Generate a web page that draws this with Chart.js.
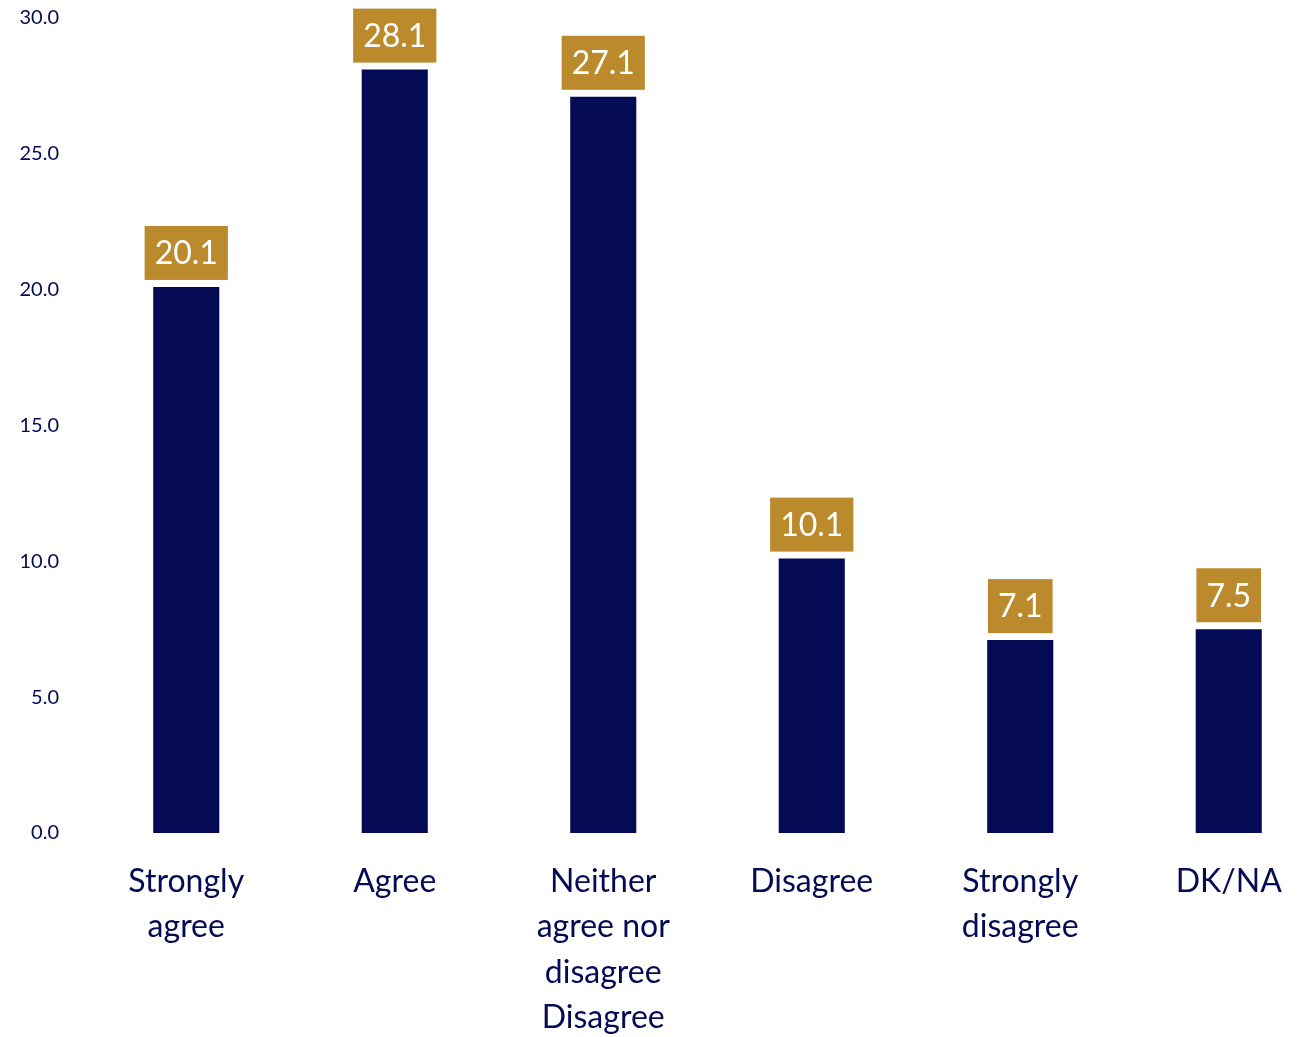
<!DOCTYPE html>
<html>
<head>
<meta charset="utf-8">
<script src="https://cdn.jsdelivr.net/npm/chart.js@4/dist/chart.umd.min.js"></script>
<style>
  html, body { margin: 0; padding: 0; background: #fff; overflow: hidden; }
  #wrap { width: 1333px; height: 1037px; }
</style>
</head>
<body>
<div id="wrap"><canvas id="chart"></canvas></div>
<script>
const categories = [
  ['Strongly', 'agree'],
  'Agree',
  ['Neither', 'agree nor', 'disagree', 'Disagree'],
  'Disagree',
  ['Strongly', 'disagree'],
  'DK/NA'
];
const values = [20.1, 28.1, 27.1, 10.1, 7.1, 7.5];
const yTicks = [0, 5, 10, 15, 20, 25, 30];

const NAVY = '#040a54';
const GOLD = '#bb8a2c';
const FONT = 'Lato, "Noto Sans", sans-serif';

// gold boxes with the value above each bar
const valueBoxes = {
  id: 'valueBoxes',
  afterDatasetsDraw(chart) {
    const ctx = chart.ctx;
    const meta = chart.getDatasetMeta(0);
    ctx.save();
    ctx.font = '32px ' + FONT;
    ctx.textAlign = 'center';
    ctx.textBaseline = 'middle';
    meta.data.forEach((bar, i) => {
      const txt = values[i].toFixed(1);
      const w = ctx.measureText(txt).width + 20;
      const h = 54;
      const bottom = bar.y - 7;
      ctx.fillStyle = GOLD;
      ctx.fillRect(bar.x - w / 2, bottom - h, w, h);
      ctx.fillStyle = '#ffffff';
      ctx.fillText(txt, bar.x, bottom - h / 2 + 1);
    });
    ctx.restore();
  }
};

new Chart(document.getElementById('chart'), {
  type: 'bar',
  data: {
    labels: categories,
    datasets: [{
      data: values,
      backgroundColor: NAVY,
      categoryPercentage: 1,
      barPercentage: 0.317
    }]
  },
  options: {
    responsive: true,
    maintainAspectRatio: false,
    animation: false,
    layout: { padding: { top: 18, right: 0, left: 0, bottom: 0 } },
    plugins: {
      legend: { display: false },
      tooltip: { enabled: false }
    },
    scales: {
      x: {
        grid: { display: false },
        border: { display: false },
        ticks: {
          color: NAVY,
          font: { family: FONT, size: 32, lineHeight: 1.42 },
          padding: 18,
          maxRotation: 0,
          autoSkip: false
        },
        afterFit: s => { s.height = 204; s.paddingLeft = 0; s.paddingRight = 0; }
      },
      y: {
        min: 0,
        max: 30,
        grid: { display: false },
        border: { display: false },
        afterBuildTicks: s => { s.ticks = yTicks.map(v => ({ value: v })); },
        afterFit: s => { s.width = 82; s.paddingTop = 0; s.paddingBottom = 0; },
        ticks: {
          color: NAVY,
          font: { family: FONT, size: 20 },
          padding: 15,
          callback: v => Number(v).toFixed(1)
        }
      }
    }
  },
  plugins: [valueBoxes]
});
</script>
</body>
</html>
